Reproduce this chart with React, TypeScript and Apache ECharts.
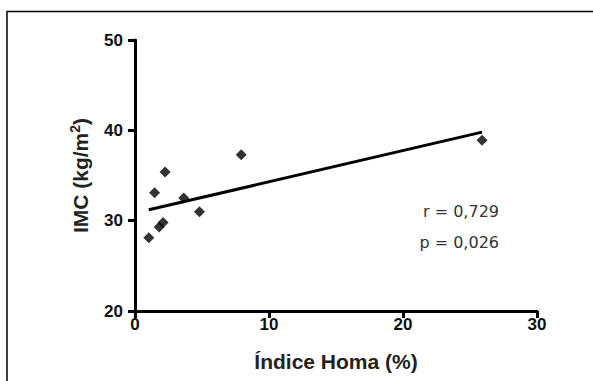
import React, { useEffect, useRef } from "react";
import * as echarts from "echarts";

const homaValues = [1.03, 1.46, 1.8, 2.1, 2.25, 3.64, 4.81, 7.93, 25.9];
const imcValues = [28.1, 33.1, 29.3, 29.8, 35.4, 32.5, 31.0, 37.3, 38.9];
const fitX = [1.03, 25.9];
const fitY = [31.2, 39.8];
const statsLines = ["r = 0,729", "p = 0,026"];

export default function App() {
  const ref = useRef<HTMLDivElement>(null);
  useEffect(() => {
    if (!ref.current) return;
    const chart = echarts.init(ref.current, null, { renderer: "svg" });
    const points = homaValues.map((x, i) => [x, imcValues[i]]);
    const fit = fitX.map((x, i) => [x, fitY[i]]);
    const tickFont = {
      fontFamily: "Liberation Sans, Arial, sans-serif",
      fontWeight: "bold" as const,
      fontSize: 17,
      color: "#111",
    };
    const nameFont = {
      fontFamily: "Liberation Sans, Arial, sans-serif",
      fontWeight: "bold" as const,
      fontSize: 21,
      color: "#222",
    };
    chart.setOption({
      animation: false,
      backgroundColor: "#fff",
      grid: { left: 135, right: 56, top: 40, bottom: 70, containLabel: false },
      xAxis: {
        type: "value",
        min: 0,
        max: 30,
        interval: 10,
        name: "Índice Homa (%)",
        nameLocation: "middle",
        nameGap: 40,
        nameTextStyle: nameFont,
        axisLine: { show: true, onZero: false, lineStyle: { color: "#000", width: 3 } },
        axisTick: { show: true, length: 7, lineStyle: { color: "#000", width: 3 } },
        axisLabel: { ...tickFont, margin: 5 },
        splitLine: { show: false },
      },
      yAxis: {
        type: "value",
        min: 20,
        max: 50,
        interval: 10,
        name: "IMC (kg/m{sup|2})",
        nameLocation: "middle",
        nameRotate: 90,
        nameGap: 43,
        nameTextStyle: {
          ...nameFont,
          rich: {
            sup: {
              fontFamily: "Liberation Sans, Arial, sans-serif",
              fontWeight: "bold",
              fontSize: 14,
              color: "#222",
              verticalAlign: "top",
              padding: [0, 0, 10, 0],
            },
          },
        },
        axisLine: { show: true, onZero: false, lineStyle: { color: "#000", width: 3 } },
        axisTick: { show: true, length: 7, lineStyle: { color: "#000", width: 3 } },
        axisLabel: { ...tickFont, margin: 12 },
        splitLine: { show: false },
      },
      series: [
        {
          type: "scatter",
          data: points,
          symbol: "diamond",
          symbolSize: 11,
          itemStyle: { color: "#000" },
          z: 3,
        },
        {
          type: "line",
          data: fit,
          showSymbol: false,
          symbol: "none",
          lineStyle: { color: "#000", width: 3 },
          z: 2,
        },
      ],
      graphic: [
        {
          type: "rect",
          shape: { x: 7, y: 11.5, width: 700, height: 500 },
          style: { fill: "none", stroke: "#000", lineWidth: 1.5 },
          silent: true,
        },
        {
          type: "text",
          x: 499,
          y: 211,
          style: {
            text: statsLines[0],
            fontFamily: "DejaVu Sans, sans-serif",
            fontSize: 16,
            fill: "#333",
            align: "right",
            verticalAlign: "middle",
          },
        },
        {
          type: "text",
          x: 499,
          y: 242,
          style: {
            text: statsLines[1],
            fontFamily: "DejaVu Sans, sans-serif",
            fontSize: 16,
            fill: "#333",
            align: "right",
            verticalAlign: "middle",
          },
        },
      ],
    });
    return () => chart.dispose();
  }, []);
  return (
    <div
      ref={ref}
      style={{ position: "fixed", left: 0, top: 0, width: 593, height: 381 }}
    />
  );
}
